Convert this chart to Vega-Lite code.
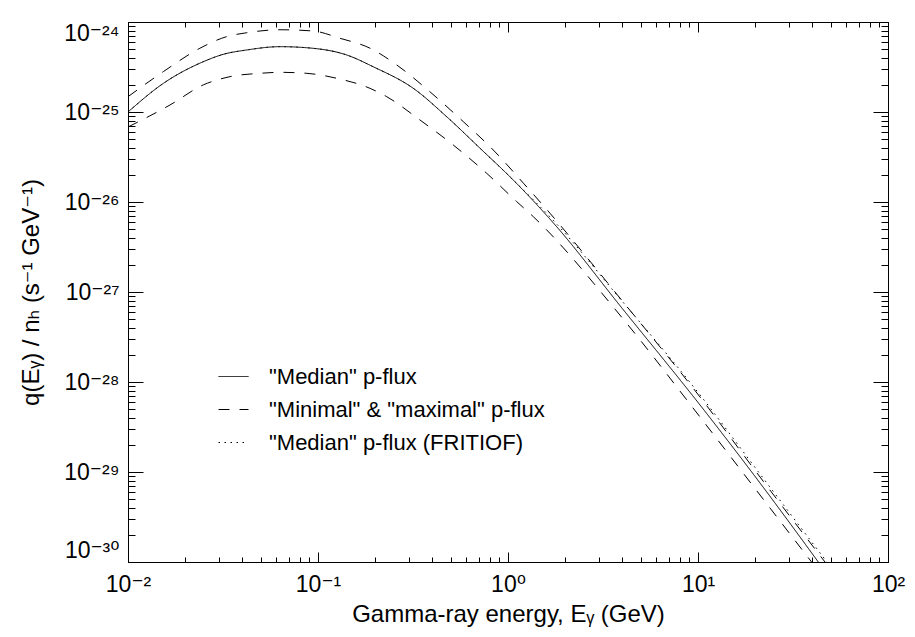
{
  "$schema": "https://vega.github.io/schema/vega-lite/v6.json",
  "width": 760,
  "height": 540,
  "autosize": {"type": "none"},
  "padding": {"left": 128, "top": 22, "right": 27, "bottom": 75},
  "background": "white",
  "config": {
    "view": {"stroke": "black", "strokeWidth": 1},
    "font": "Liberation Sans, DejaVu Sans, sans-serif",
    "axis": {"grid": false, "domainColor": "black", "domainWidth": 1, "tickColor": "black", "tickWidth": 1, "labelColor": "black", "titleColor": "black", "titleFontWeight": "normal", "labelOverlap": false}
  },
  "data": {
    "values": [
      {"E": 0.01, "q": 1.0e-25, "series": "\"Median\" p-flux", "curve": "median"},
      {"E": 0.01535, "q": 2.08e-25, "series": "\"Median\" p-flux", "curve": "median"},
      {"E": 0.0249, "q": 3.62e-25, "series": "\"Median\" p-flux", "curve": "median"},
      {"E": 0.0318, "q": 4.38e-25, "series": "\"Median\" p-flux", "curve": "median"},
      {"E": 0.0422, "q": 4.89e-25, "series": "\"Median\" p-flux", "curve": "median"},
      {"E": 0.0631, "q": 5.32e-25, "series": "\"Median\" p-flux", "curve": "median"},
      {"E": 0.0944, "q": 5.10e-25, "series": "\"Median\" p-flux", "curve": "median"},
      {"E": 0.1416, "q": 4.30e-25, "series": "\"Median\" p-flux", "curve": "median"},
      {"E": 0.1954, "q": 3.18e-25, "series": "\"Median\" p-flux", "curve": "median"},
      {"E": 0.3177, "q": 1.83e-25, "series": "\"Median\" p-flux", "curve": "median"},
      {"E": 0.4755, "q": 8.87e-26, "series": "\"Median\" p-flux", "curve": "median"},
      {"E": 0.713, "q": 3.95e-26, "series": "\"Median\" p-flux", "curve": "median"},
      {"E": 1.067, "q": 1.75e-26, "series": "\"Median\" p-flux", "curve": "median"},
      {"E": 1.803, "q": 5.32e-27, "series": "\"Median\" p-flux", "curve": "median"},
      {"E": 3.88, "q": 7.08e-28, "series": "\"Median\" p-flux", "curve": "median"},
      {"E": 10.25, "q": 5.55e-29, "series": "\"Median\" p-flux", "curve": "median"},
      {"E": 21.2, "q": 7.55e-30, "series": "\"Median\" p-flux", "curve": "median"},
      {"E": 42.97, "q": 1.0e-30, "series": "\"Median\" p-flux", "curve": "median"},

      {"E": 0.01, "q": 1.48e-25, "series": "\"Minimal\" & \"maximal\" p-flux", "curve": "max"},
      {"E": 0.01535, "q": 2.81e-25, "series": "\"Minimal\" & \"maximal\" p-flux", "curve": "max"},
      {"E": 0.0239, "q": 5.11e-25, "series": "\"Minimal\" & \"maximal\" p-flux", "curve": "max"},
      {"E": 0.033, "q": 6.87e-25, "series": "\"Minimal\" & \"maximal\" p-flux", "curve": "max"},
      {"E": 0.0422, "q": 7.60e-25, "series": "\"Minimal\" & \"maximal\" p-flux", "curve": "max"},
      {"E": 0.0631, "q": 8.20e-25, "series": "\"Minimal\" & \"maximal\" p-flux", "curve": "max"},
      {"E": 0.0944, "q": 7.94e-25, "series": "\"Minimal\" & \"maximal\" p-flux", "curve": "max"},
      {"E": 0.1306, "q": 6.59e-25, "series": "\"Minimal\" & \"maximal\" p-flux", "curve": "max"},
      {"E": 0.188, "q": 5.11e-25, "series": "\"Minimal\" & \"maximal\" p-flux", "curve": "max"},
      {"E": 0.2597, "q": 3.33e-25, "series": "\"Minimal\" & \"maximal\" p-flux", "curve": "max"},
      {"E": 0.388, "q": 1.68e-25, "series": "\"Minimal\" & \"maximal\" p-flux", "curve": "max"},
      {"E": 0.582, "q": 7.80e-26, "series": "\"Minimal\" & \"maximal\" p-flux", "curve": "max"},
      {"E": 0.837, "q": 3.78e-26, "series": "\"Minimal\" & \"maximal\" p-flux", "curve": "max"},
      {"E": 1.205, "q": 1.62e-26, "series": "\"Minimal\" & \"maximal\" p-flux", "curve": "max"},
      {"E": 1.665, "q": 7.48e-27, "series": "\"Minimal\" & \"maximal\" p-flux", "curve": "max"},
      {"E": 3.88, "q": 8.58e-28, "series": "\"Minimal\" & \"maximal\" p-flux", "curve": "max"},
      {"E": 10.25, "q": 6.81e-29, "series": "\"Minimal\" & \"maximal\" p-flux", "curve": "max"},
      {"E": 21.2, "q": 8.8e-30, "series": "\"Minimal\" & \"maximal\" p-flux", "curve": "max"},
      {"E": 46.6, "q": 1.0e-30, "series": "\"Minimal\" & \"maximal\" p-flux", "curve": "max"},

      {"E": 0.01, "q": 6.81e-26, "series": "\"Minimal\" & \"maximal\" p-flux", "curve": "min"},
      {"E": 0.01663, "q": 1.197e-25, "series": "\"Minimal\" & \"maximal\" p-flux", "curve": "min"},
      {"E": 0.0249, "q": 2.0e-25, "series": "\"Minimal\" & \"maximal\" p-flux", "curve": "min"},
      {"E": 0.0344, "q": 2.47e-25, "series": "\"Minimal\" & \"maximal\" p-flux", "curve": "min"},
      {"E": 0.0495, "q": 2.69e-25, "series": "\"Minimal\" & \"maximal\" p-flux", "curve": "min"},
      {"E": 0.0631, "q": 2.76e-25, "series": "\"Minimal\" & \"maximal\" p-flux", "curve": "min"},
      {"E": 0.0873, "q": 2.69e-25, "series": "\"Minimal\" & \"maximal\" p-flux", "curve": "min"},
      {"E": 0.1254, "q": 2.37e-25, "series": "\"Minimal\" & \"maximal\" p-flux", "curve": "min"},
      {"E": 0.188, "q": 1.83e-25, "series": "\"Minimal\" & \"maximal\" p-flux", "curve": "min"},
      {"E": 0.23, "q": 1.48e-25, "series": "\"Minimal\" & \"maximal\" p-flux", "curve": "min"},
      {"E": 0.344, "q": 8.15e-26, "series": "\"Minimal\" & \"maximal\" p-flux", "curve": "min"},
      {"E": 0.515, "q": 4.30e-26, "series": "\"Minimal\" & \"maximal\" p-flux", "curve": "min"},
      {"E": 0.773, "q": 2.08e-26, "series": "\"Minimal\" & \"maximal\" p-flux", "curve": "min"},
      {"E": 1.111, "q": 1.01e-26, "series": "\"Minimal\" & \"maximal\" p-flux", "curve": "min"},
      {"E": 1.359, "q": 6.87e-27, "series": "\"Minimal\" & \"maximal\" p-flux", "curve": "min"},
      {"E": 3.88, "q": 5.55e-28, "series": "\"Minimal\" & \"maximal\" p-flux", "curve": "min"},
      {"E": 10.25, "q": 4.08e-29, "series": "\"Minimal\" & \"maximal\" p-flux", "curve": "min"},
      {"E": 21.2, "q": 5.55e-30, "series": "\"Minimal\" & \"maximal\" p-flux", "curve": "min"},
      {"E": 39.6, "q": 1.0e-30, "series": "\"Minimal\" & \"maximal\" p-flux", "curve": "min"},

      {"E": 0.01, "q": 1.0e-25, "series": "\"Median\" p-flux (FRITIOF)", "curve": "fritiof"},
      {"E": 0.01535, "q": 2.08e-25, "series": "\"Median\" p-flux (FRITIOF)", "curve": "fritiof"},
      {"E": 0.0249, "q": 3.62e-25, "series": "\"Median\" p-flux (FRITIOF)", "curve": "fritiof"},
      {"E": 0.0318, "q": 4.38e-25, "series": "\"Median\" p-flux (FRITIOF)", "curve": "fritiof"},
      {"E": 0.0422, "q": 4.89e-25, "series": "\"Median\" p-flux (FRITIOF)", "curve": "fritiof"},
      {"E": 0.0631, "q": 5.32e-25, "series": "\"Median\" p-flux (FRITIOF)", "curve": "fritiof"},
      {"E": 0.0944, "q": 5.10e-25, "series": "\"Median\" p-flux (FRITIOF)", "curve": "fritiof"},
      {"E": 0.1416, "q": 4.30e-25, "series": "\"Median\" p-flux (FRITIOF)", "curve": "fritiof"},
      {"E": 0.1954, "q": 3.18e-25, "series": "\"Median\" p-flux (FRITIOF)", "curve": "fritiof"},
      {"E": 0.3177, "q": 1.83e-25, "series": "\"Median\" p-flux (FRITIOF)", "curve": "fritiof"},
      {"E": 0.4755, "q": 8.87e-26, "series": "\"Median\" p-flux (FRITIOF)", "curve": "fritiof"},
      {"E": 0.713, "q": 3.95e-26, "series": "\"Median\" p-flux (FRITIOF)", "curve": "fritiof"},
      {"E": 1.067, "q": 1.75e-26, "series": "\"Median\" p-flux (FRITIOF)", "curve": "fritiof"},
      {"E": 1.803, "q": 5.7e-27, "series": "\"Median\" p-flux (FRITIOF)", "curve": "fritiof"},
      {"E": 3.88, "q": 8.47e-28, "series": "\"Median\" p-flux (FRITIOF)", "curve": "fritiof"},
      {"E": 10.25, "q": 7.18e-29, "series": "\"Median\" p-flux (FRITIOF)", "curve": "fritiof"},
      {"E": 21.2, "q": 9.5e-30, "series": "\"Median\" p-flux (FRITIOF)", "curve": "fritiof"},
      {"E": 47.7, "q": 1.0e-30, "series": "\"Median\" p-flux (FRITIOF)", "curve": "fritiof"}
    ]
  },
  "layer": [
    {
      "mark": {"type": "line", "color": "black", "strokeWidth": 1, "clip": true, "interpolate": "monotone"},
      "encoding": {
        "x": {
          "field": "E", "type": "quantitative",
          "scale": {"type": "log", "domain": [0.01, 100], "nice": false},
          "axis": {
            "orient": "bottom",
            "values": [0.01,0.02,0.03,0.04,0.05,0.06,0.07,0.08,0.09,0.1,0.2,0.3,0.4,0.5,0.6,0.7,0.8,0.9,1,2,3,4,5,6,7,8,9,10,20,30,40,50,60,70,80,90,100],
            "tickSize": {"condition": {"test": "abs(log(datum.value)/LN10 - round(log(datum.value)/LN10)) < 1e-6", "value": -10}, "value": -5},
            "labelExpr": "abs(log(datum.value)/LN10 - round(log(datum.value)/LN10)) < 1e-6 ? ['10⁻²','10⁻¹','10⁰','10¹','10²'][round(log(datum.value)/LN10)+2] : ''",
            "labelFlush": false,
            "labelFontSize": 23,
            "labelPadding": 21,
            "title": "Gamma-ray energy, Eᵧ (GeV)",
            "titleFontSize": 24,
            "titlePadding": 1
          }
        },
        "y": {
          "field": "q", "type": "quantitative",
          "scale": {"type": "log", "domain": [1e-30, 1e-24], "nice": false},
          "axis": {
            "orient": "left",
            "values": [1e-30,2e-30,3e-30,4e-30,5e-30,6e-30,7e-30,8e-30,9e-30,1e-29,2e-29,3e-29,4e-29,5e-29,6e-29,7e-29,8e-29,9e-29,1e-28,2e-28,3e-28,4e-28,5e-28,6e-28,7e-28,8e-28,9e-28,1e-27,2e-27,3e-27,4e-27,5e-27,6e-27,7e-27,8e-27,9e-27,1e-26,2e-26,3e-26,4e-26,5e-26,6e-26,7e-26,8e-26,9e-26,1e-25,2e-25,3e-25,4e-25,5e-25,6e-25,7e-25,8e-25,9e-25,1e-24],
            "tickSize": {"condition": {"test": "abs(log(datum.value)/LN10 - round(log(datum.value)/LN10)) < 1e-6", "value": -15}, "value": -7},
            "labelExpr": "abs(log(datum.value)/LN10 - round(log(datum.value)/LN10)) < 1e-6 ? ['10⁻³⁰','10⁻²⁹','10⁻²⁸','10⁻²⁷','10⁻²⁶','10⁻²⁵','10⁻²⁴'][round(log(datum.value)/LN10)+30] : ''",
            "labelFlush": true,
            "labelFontSize": 23,
            "labelPadding": 24,
            "title": "q(Eᵧ) / nₕ  (s⁻¹ GeV⁻¹)",
            "titleFontSize": 24,
            "titlePadding": 20
          }
        },
        "strokeDash": {
          "field": "series", "type": "nominal",
          "scale": {"domain": ["\"Median\" p-flux", "\"Minimal\" & \"maximal\" p-flux", "\"Median\" p-flux (FRITIOF)"], "range": [[1, 0], [11, 10], [1.5, 4.5]]},
          "legend": {
            "orient": "none", "legendX": 90, "legendY": 339, "title": null,
            "symbolType": "stroke", "symbolSize": 900, "symbolStrokeWidth": 1, "symbolStrokeColor": "black",
            "labelFontSize": 22, "labelColor": "black", "labelOffset": 20, "labelLimit": 600,
            "rowPadding": 6, "padding": 0
          }
        },
        "detail": {"field": "curve", "type": "nominal"}
      }
    },
    {
      "mark": {"type": "line", "strokeOpacity": 0},
      "encoding": {
        "x": {
          "field": "E", "type": "quantitative",
          "axis": {
            "orient": "top",
            "values": [0.01,0.02,0.03,0.04,0.05,0.06,0.07,0.08,0.09,0.1,0.2,0.3,0.4,0.5,0.6,0.7,0.8,0.9,1,2,3,4,5,6,7,8,9,10,20,30,40,50,60,70,80,90,100],
            "tickSize": {"condition": {"test": "abs(log(datum.value)/LN10 - round(log(datum.value)/LN10)) < 1e-6", "value": -10}, "value": -5},
            "labels": false, "title": null
          }
        },
        "y": {
          "field": "q", "type": "quantitative",
          "axis": {
            "orient": "right",
            "values": [1e-30,2e-30,3e-30,4e-30,5e-30,6e-30,7e-30,8e-30,9e-30,1e-29,2e-29,3e-29,4e-29,5e-29,6e-29,7e-29,8e-29,9e-29,1e-28,2e-28,3e-28,4e-28,5e-28,6e-28,7e-28,8e-28,9e-28,1e-27,2e-27,3e-27,4e-27,5e-27,6e-27,7e-27,8e-27,9e-27,1e-26,2e-26,3e-26,4e-26,5e-26,6e-26,7e-26,8e-26,9e-26,1e-25,2e-25,3e-25,4e-25,5e-25,6e-25,7e-25,8e-25,9e-25,1e-24],
            "tickSize": {"condition": {"test": "abs(log(datum.value)/LN10 - round(log(datum.value)/LN10)) < 1e-6", "value": -15}, "value": -7},
            "labels": false, "title": null
          }
        },
        "detail": {"field": "curve", "type": "nominal"}
      }
    }
  ],
  "resolve": {"axis": {"x": "independent", "y": "independent"}}
}
